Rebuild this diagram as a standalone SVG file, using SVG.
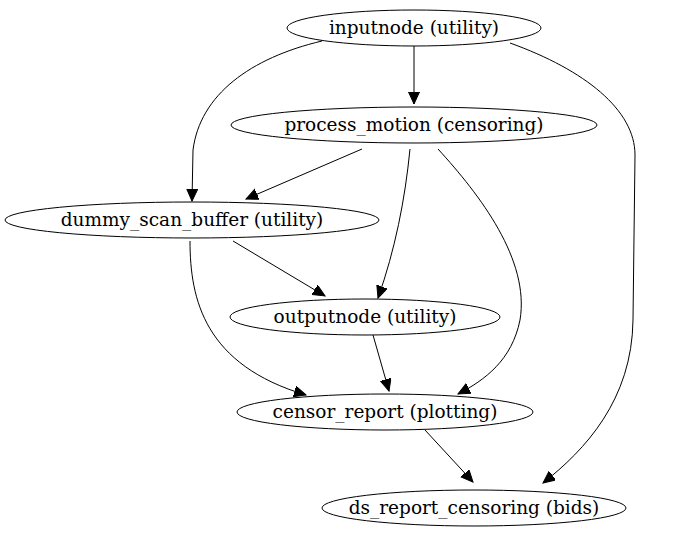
<svg xmlns="http://www.w3.org/2000/svg" width="684" height="539" viewBox="0 0 684 539">
<style>
.n ellipse{fill:none;stroke:#000;stroke-width:1}
.n text{font-family:"DejaVu Serif","Liberation Serif",serif;font-size:18.5px;text-anchor:middle;fill:#000}
#edges path{fill:none;stroke:#000;stroke-width:1;marker-end:url(#a)}
</style>
<defs><marker id="a" markerUnits="userSpaceOnUse" markerWidth="14" markerHeight="12" refX="12" refY="5.5" orient="auto"><path d="M0,0 L12,5.5 L0,11 Z" fill="#000" stroke="#000"/></marker></defs>
<rect width="684" height="539" fill="#fff"/>
<g id="edges">
<path d="M414,46 L414,104"/>
<path d="M322,41 C250,58 200,95 193,150 L192,201"/>
<path d="M510,43 C585,70 635,110 635,155 L633,320 C632,400 585,450 543,483"/>
<path d="M362,149 L246,199"/>
<path d="M410,149 C405,200 395,250 378,298"/>
<path d="M438,149 C480,195 530,260 520,320 C512,360 485,380 458,394"/>
<path d="M233,241 L325,296"/>
<path d="M190,241 C190,300 205,365 306,395"/>
<path d="M373,335 L389,391"/>
<path d="M425,430 L473,482"/>
</g>
<g id="inputnode" class="n"><ellipse cx="414" cy="28" rx="127" ry="18"/><text x="414" y="34">inputnode (utility)</text></g>
<g id="process_motion" class="n"><ellipse cx="414" cy="125" rx="183" ry="18"/><text x="414" y="131">process_motion (censoring)</text></g>
<g id="dummy_scan_buffer" class="n"><ellipse cx="192" cy="220" rx="187" ry="18"/><text x="192" y="226">dummy_scan_buffer (utility)</text></g>
<g id="outputnode" class="n"><ellipse cx="365" cy="317" rx="135" ry="18"/><text x="365" y="323">outputnode (utility)</text></g>
<g id="censor_report" class="n"><ellipse cx="385" cy="412" rx="148" ry="18"/><text x="385" y="418">censor_report (plotting)</text></g>
<g id="ds_report_censoring" class="n"><ellipse cx="474" cy="508" rx="152" ry="18"/><text x="474" y="514">ds_report_censoring (bids)</text></g>
</svg>
